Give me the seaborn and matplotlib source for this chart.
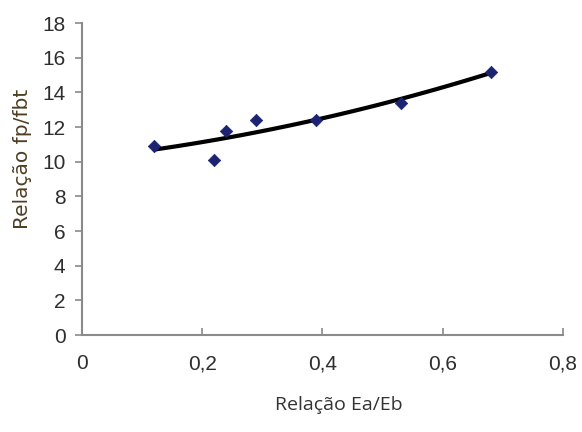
import numpy as np
import pandas as pd
import seaborn as sns
import matplotlib
matplotlib.use("Agg")
import matplotlib.pyplot as plt
from matplotlib.ticker import FuncFormatter

# Measured ratios
ea_eb = [0.12, 0.22, 0.24, 0.29, 0.39, 0.53, 0.68]
fp_fbt = [10.9, 10.1, 11.8, 12.4, 12.4, 13.4, 15.2]

x_ticks = [0, 0.2, 0.4, 0.6, 0.8]
y_ticks = [0, 2, 4, 6, 8, 10, 12, 14, 16, 18]

df = pd.DataFrame({"ea_eb": ea_eb, "fp_fbt": fp_fbt})

sns.set_style("white")
plt.rcParams["font.family"] = ["Liberation Sans", "DejaVu Sans"]

fig = plt.figure(figsize=(5.82, 4.32), dpi=100)
ax = fig.add_axes([0.141, 0.2245, 0.826, 0.722])

# Second-order polynomial trend line fitted to the points
coef = np.polyfit(df["ea_eb"], df["fp_fbt"], 2)
xs = np.linspace(min(ea_eb), max(ea_eb), 100)
trend = pd.DataFrame({"x": xs, "y": np.polyval(coef, xs)})
sns.lineplot(data=trend, x="x", y="y", ax=ax, color="black", linewidth=3, zorder=2)

sns.scatterplot(data=df, x="ea_eb", y="fp_fbt", ax=ax, marker="D", s=40,
                color="#1c2370", edgecolor="#1c2370", zorder=3)

ax.set_xlim(0, 0.8)
ax.set_ylim(0, 18)
ax.set_xticks(x_ticks)
ax.set_yticks(y_ticks)
ax.xaxis.set_major_formatter(FuncFormatter(lambda v, p: f"{v:g}".replace(".", ",")))

for side in ["top", "right"]:
    ax.spines[side].set_visible(False)
for side in ["left", "bottom"]:
    ax.spines[side].set_color("#8a8a8a")
    ax.spines[side].set_linewidth(1.5)

ax.tick_params(axis="y", direction="out", length=5, width=1.2, color="#8a8a8a",
               labelsize=15, pad=7, labelcolor="#2e2e2e", left=True)
ax.tick_params(axis="x", direction="in", length=5, width=1.2, color="#8a8a8a",
               labelsize=15, pad=14, labelcolor="#2e2e2e", bottom=True)
for lbl in ax.get_xticklabels() + ax.get_yticklabels():
    lbl.set_fontweight("medium")

ax.set_xlabel("Relação Ea/Eb", fontsize=14, color="#333333",
              family=["Open Sans", "DejaVu Sans"])
ax.set_ylabel("Relação fp/fbt", fontsize=14.5, color="#4e3f22",
              family=["DejaVu Sans"])
ax.yaxis.set_label_coords(-0.105, 0.565)
ax.xaxis.set_label_coords(0.535, -0.195)

fig.savefig("out.png", dpi=100)
